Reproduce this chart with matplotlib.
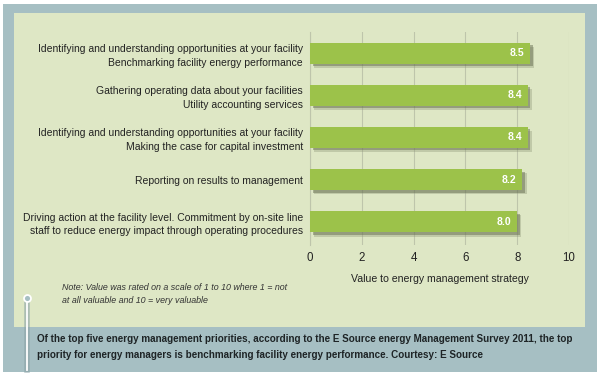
import matplotlib.pyplot as plt
import matplotlib.patheffects as pe
from matplotlib.patches import Rectangle
from matplotlib.lines import Line2D

plt.rcParams['font.family'] = ['Liberation Sans', 'DejaVu Sans']

labels = [
    "Identifying and understanding opportunities at your facility\nBenchmarking facility energy performance",
    "Gathering operating data about your facilities\nUtility accounting services",
    "Identifying and understanding opportunities at your facility\nMaking the case for capital investment",
    "Reporting on results to management",
    "Driving action at the facility level. Commitment by on-site line\nstaff to reduce energy impact through operating procedures",
]
values = [8.5, 8.4, 8.4, 8.2, 8.0]
xticks = [0, 2, 4, 6, 8, 10]

W, H = 600, 376
fig = plt.figure(figsize=(6, 3.76), dpi=100)
fig.patch.set_facecolor('white')

def fr(x0, y0, x1, y1, **kw):
    # rectangle in pixel coords (y from top)
    fig.patches.append(Rectangle((x0 / W, 1 - y1 / H), (x1 - x0) / W, (y1 - y0) / H,
                                 transform=fig.transFigure, **kw))

fr(3, 4, 597, 372, facecolor='#a6bfc3', edgecolor='none', zorder=-2)
fr(14, 13, 585, 327, facecolor='#dee7c5', edgecolor='none', zorder=-1)

ax = fig.add_axes([310 / W, 1 - 245 / H, 259 / W, 213 / H])
ax.set_zorder(2)
ax.set_facecolor('none')

y = list(range(len(values)))
bars = ax.barh(y, values, height=0.5, color='#9cc24a', zorder=3)
for b in bars:
    b.set_path_effects([pe.SimplePatchShadow(offset=(3, -3), shadow_rgbFace='#8a9272', alpha=0.35),
                        pe.SimplePatchShadow(offset=(1.8, -1.8), shadow_rgbFace='#5f664a', alpha=0.45),
                        pe.Normal()])
for yi, v in zip(y, values):
    ax.text(v - 0.22, yi, f"{v:.1f}", ha='right', va='center', color='white',
            fontsize=7.5, fontweight='bold', zorder=4)

ax.set_xlim(0, 10)
ax.set_ylim(4.55, -0.5)
ax.set_xticks(xticks)
ax.set_xticklabels([str(t) for t in xticks], fontsize=8.3, color='#222222')
ax.set_yticks(y)
ax.set_yticklabels(labels, fontsize=7.5, color='#222222', linespacing=1.45)
ax.tick_params(axis='both', length=0, pad=5)
ax.tick_params(axis='x', pad=5)
ax.grid(axis='x', color='#bec5ab', linewidth=0.8, zorder=1)
for s in ['top', 'right', 'bottom']:
    ax.spines[s].set_visible(False)
ax.spines['left'].set_color('#bec5ab')
ax.spines['left'].set_linewidth(0.8)
ax.set_xlabel("Value to energy management strategy", fontsize=7.6, color='#222222', labelpad=7)

fig.text(62 / W, 1 - 294 / H,
         "Note: Value was rated on a scale of 1 to 10 where 1 = not\nat all valuable and 10 = very valuable",
         fontsize=6.4, style='italic', color='#333333', va='center', linespacing=1.6)

fig.text(37 / W, 1 - 347 / H,
         "Of the top five energy management priorities, according to the E Source energy Management Survey 2011, the top\n"
         "priority for energy managers is benchmarking facility energy performance. Courtesy: E Source",
         fontsize=7.1, fontweight='bold', color='#1e2426', va='center', linespacing=1.75)

ln = Line2D([27 / W, 27 / W], [1 - 300 / H, 1 - 370 / H], transform=fig.transFigure,
            color='white', linewidth=1.3, zorder=5,
            path_effects=[pe.withStroke(linewidth=4, foreground='#8aa2a6', alpha=0.6)])
fig.lines.append(ln)
mk = Line2D([27 / W], [1 - 298 / H], transform=fig.transFigure, marker='o', markersize=5,
            markerfacecolor='#a6bfc3', markeredgecolor='white', markeredgewidth=1.3, zorder=6)
fig.lines.append(mk)

fig.savefig('out.png', dpi=100, facecolor=fig.get_facecolor())
